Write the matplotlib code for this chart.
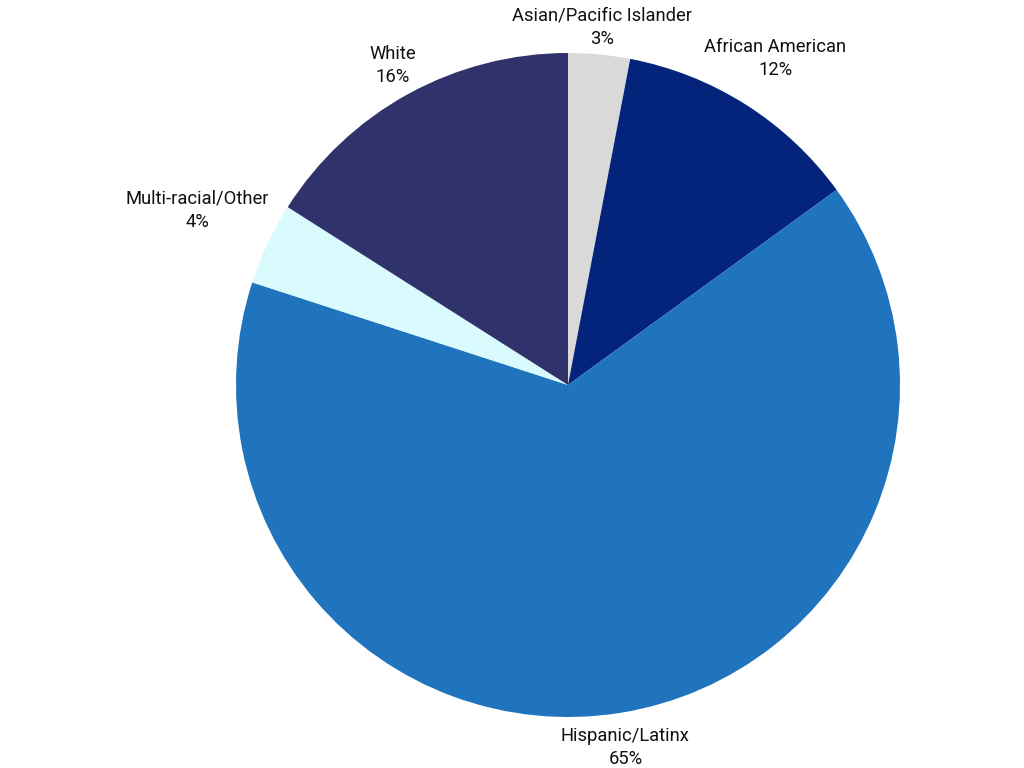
import numpy as np
import matplotlib
matplotlib.use("Agg")
from matplotlib import pyplot as plt

plt.rcParams['font.family'] = ['Roboto', 'DejaVu Sans']

# Datos del grafico (sentido horario desde arriba)
groups = ['Asian/Pacific Islander', 'African American', 'Hispanic/Latinx',
          'Multi-racial/Other', 'White']
shares = [3, 12, 65, 4, 16]
colors = ['#d9d9d9', '#04237a', '#1f74bd', '#d9fbfd', '#30336b']
# distancia de cada etiqueta al centro (en radios)
label_dist = [1.082, 1.165, 1.105, 1.235, 1.098]

fig = plt.figure(figsize=(10.24, 7.68), dpi=100)
ax = fig.add_axes([0, 0, 1, 1])

wedges, _ = ax.pie(shares, colors=colors, startangle=90, counterclock=False,
                   radius=1.0, wedgeprops=dict(linewidth=0))

for w, name, val, d in zip(wedges, groups, shares, label_dist):
    mid = np.deg2rad((w.theta1 + w.theta2) / 2)
    ax.text(d * np.cos(mid), d * np.sin(mid), '{}\n{}%'.format(name, val),
            ha='center', va='center', fontsize=13.2, color='#111111',
            linespacing=1.35)

ax.set_aspect('equal')
# centro en (568, 385) px, radio ~332 px
ax.set_xlim(-568 / 332, (1024 - 568) / 332)
ax.set_ylim(-(768 - 385) / 332, 385 / 332)
ax.axis('off')

fig.savefig('out.png', dpi=100)
